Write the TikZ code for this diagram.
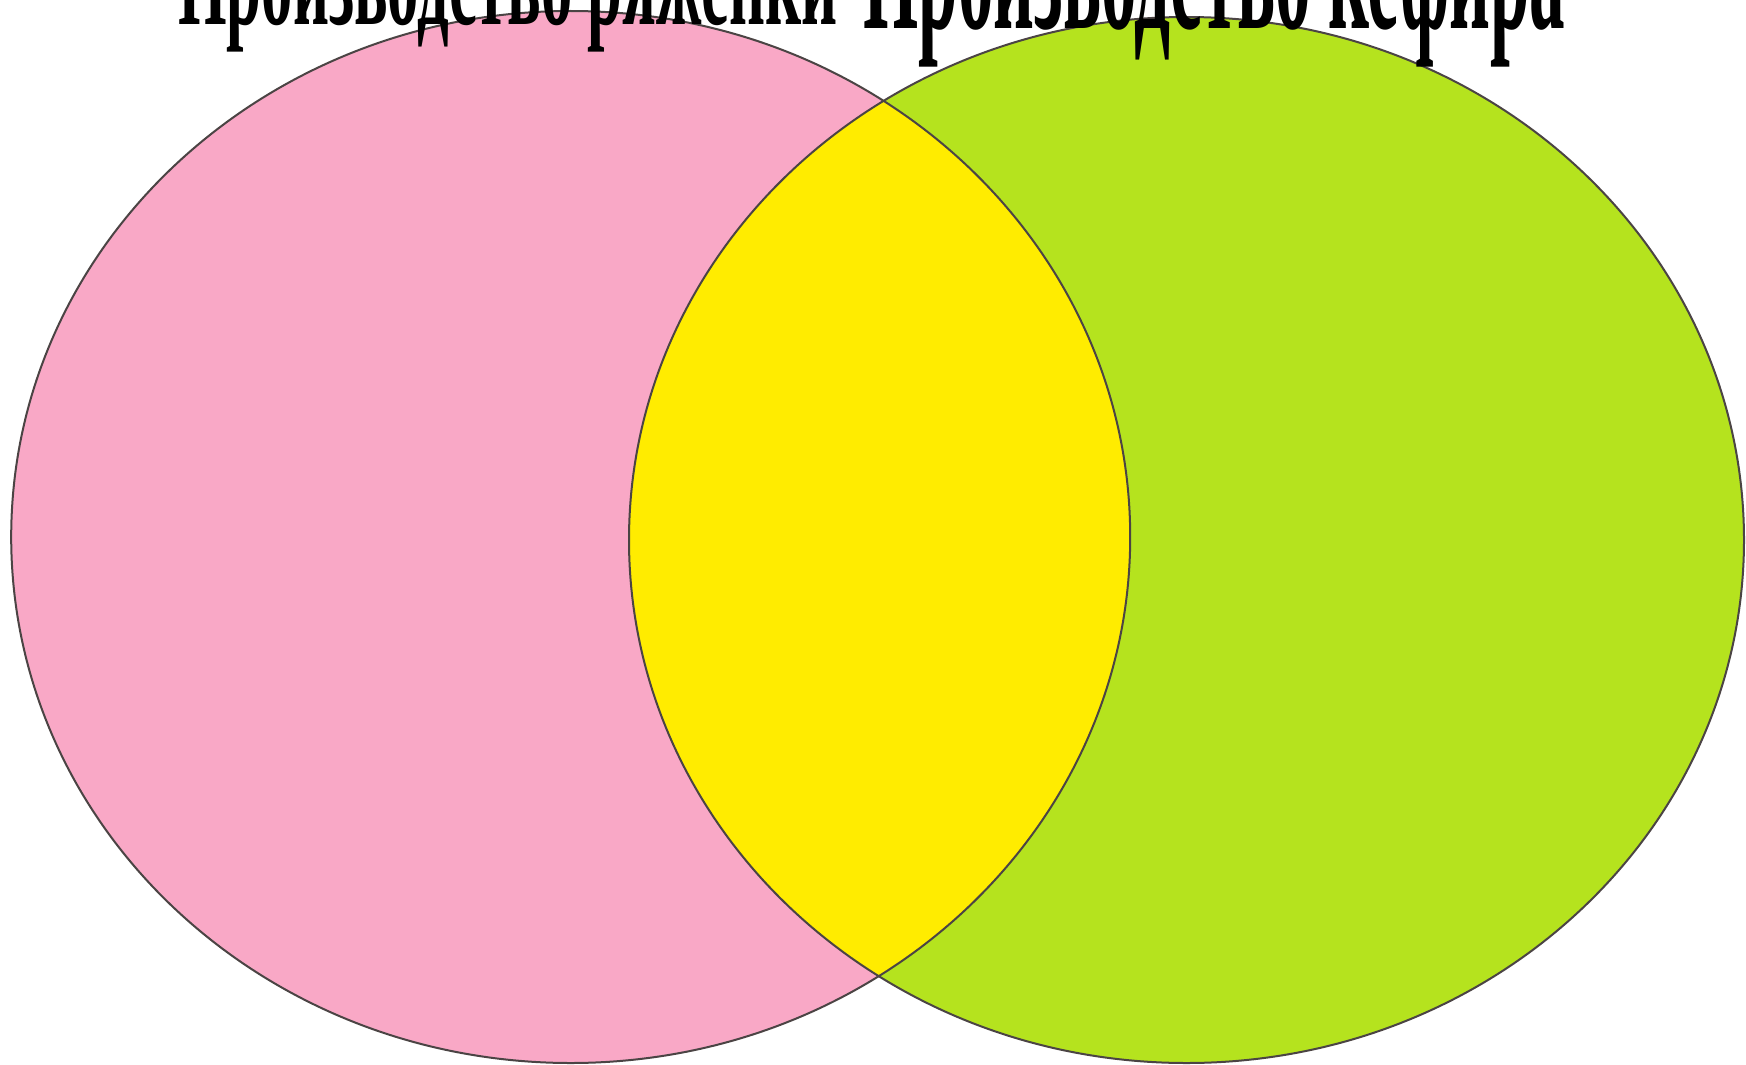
\documentclass[tikz,border=0pt]{standalone}
\usepackage{graphicx}
\usepackage{fontspec}
\setmainfont{Liberation Serif}
\definecolor{pinkfill}{RGB}{249,168,198}
\definecolor{greenfill}{RGB}{181,227,30}
\definecolor{lensfill}{RGB}{255,236,0}
\definecolor{edgecol}{RGB}{75,68,68}
\begin{document}
\begin{tikzpicture}[x=1pt,y=-1pt,
  circ/.style={draw=edgecol, line width=2pt},
  title/.style={inner sep=0pt, anchor=base west, font=\bfseries}]
\useasboundingbox (0,0) rectangle (1746,1065);
\fill[white] (0,0) rectangle (1746,1065);
% sets
\fill[pinkfill] (570.7,537) ellipse [x radius=559.5, y radius=526];
\fill[greenfill] (1186.5,540) ellipse [x radius=557.5, y radius=523];
\begin{scope}
  \clip (570.7,537) ellipse [x radius=559.5, y radius=526];
  \fill[lensfill] (1186.5,540) ellipse [x radius=557.5, y radius=523];
\end{scope}
\draw[circ] (570.7,537) ellipse [x radius=559.5, y radius=526];
\draw[circ] (1186.5,540) ellipse [x radius=557.5, y radius=523];
% titles (cut off at the top edge, as in the reference)
\node[title] (ryazhenka) at (178,25) {\resizebox{659pt}{85pt}{Производство ряженки}};
\node[title] (kefir) at (863,28) {\resizebox{702pt}{126pt}{Производство кефира}};
\end{tikzpicture}
\end{document}
